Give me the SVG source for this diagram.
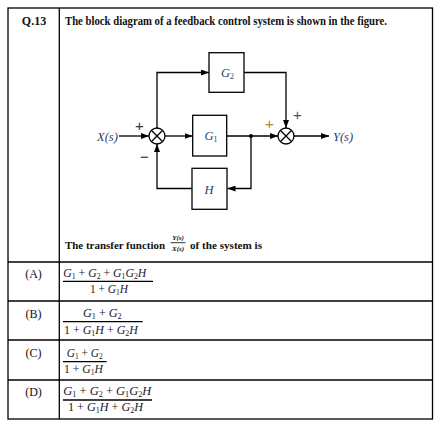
<svg xmlns="http://www.w3.org/2000/svg" width="443" height="428" viewBox="0 0 443 428">
<defs>
<style>
.tb{fill:none;stroke:#000;stroke-width:1.3}
.ln{fill:none;stroke:#000;stroke-width:1.3}
.bx{fill:#fff;stroke:#000;stroke-width:1.3}
.t{font-family:"Liberation Serif",serif;font-size:12px;fill:#111}
.b{font-weight:bold}
.m{font-family:"Liberation Serif",serif;font-style:italic;font-size:12px;fill:#1a1a2a}
.u{font-style:normal}
.s{font-size:8px;font-style:normal}
.dl{font-family:"Liberation Serif",serif;font-style:italic;font-size:12.5px;fill:#2d3f6e}
.pl{font-family:"Liberation Sans",sans-serif;font-size:15px}
.fr{font-family:"Liberation Serif",serif;font-weight:bold;font-style:italic;font-size:7px;fill:#111}
</style>
<marker id="ar" markerWidth="8" markerHeight="6" refX="8" refY="3" orient="auto" markerUnits="userSpaceOnUse">
<path d="M0,0 L8,3 L0,6 Z" fill="#000"/>
</marker>
</defs>
<rect width="443" height="428" fill="#fff"/>

<g id="table">
<rect class="tb" x="8" y="8" width="424.5" height="411"/>
<line class="tb" x1="59.3" y1="8" x2="59.3" y2="419"/>
<line class="tb" x1="8" y1="262" x2="432.5" y2="262"/>
<line class="tb" x1="8" y1="301" x2="432.5" y2="301"/>
<line class="tb" x1="8" y1="340" x2="432.5" y2="340"/>
<line class="tb" x1="8" y1="380" x2="432.5" y2="380"/>
</g>

<g id="question">
<text class="t b" x="34" y="25" text-anchor="middle">Q.13</text>
<text class="t b" x="65" y="25" textLength="322" lengthAdjust="spacingAndGlyphs">The block diagram of a feedback control system is shown in the figure.</text>
<text class="t b" x="65" y="249.3" style="font-size:11px" textLength="100" lengthAdjust="spacingAndGlyphs">The transfer function</text>
<text class="fr" x="178" y="240.3" text-anchor="middle">Y(s)</text>
<line x1="170.5" y1="242.7" x2="185.5" y2="242.7" stroke="#000" stroke-width="0.8"/>
<text class="fr" x="178" y="251.3" text-anchor="middle">X(s)</text>
<text class="t b" x="190" y="249.3" style="font-size:11px" textLength="72" lengthAdjust="spacingAndGlyphs">of the system is</text>
</g>

<g id="connectors">
<path class="ln" d="M119,136 H149" marker-end="url(#ar)"/>
<path class="ln" d="M165,136 H192.5" marker-end="url(#ar)"/>
<path class="ln" d="M227,136 H278" marker-end="url(#ar)"/>
<path class="ln" d="M294,136 H329" marker-end="url(#ar)"/>
<path class="ln" d="M251,136 V188.5 H227.5" marker-end="url(#ar)"/>
<path class="ln" d="M192,188.5 H157 V144" marker-end="url(#ar)"/>
<path class="ln" d="M157,128 V72.5 H209" marker-end="url(#ar)"/>
<path class="ln" d="M244,72.5 H286 V128" marker-end="url(#ar)"/>
<circle cx="251" cy="136" r="2" fill="#000"/>
</g>

<g id="input"><text class="dl" x="97" y="140.5">X(s)</text></g>
<g id="output"><text class="dl" x="333" y="140.5">Y(s)</text></g>

<g id="sum1">
<circle class="bx" cx="157" cy="136" r="8"/>
<path class="ln" d="M151.3,130.3 L162.7,141.7 M162.7,130.3 L151.3,141.7"/>
<text class="pl" x="139.5" y="130.5" text-anchor="middle" fill="#333">+</text>
<text class="pl" x="144.5" y="161.5" text-anchor="middle" fill="#222">−</text>
</g>

<g id="sum2">
<circle class="bx" cx="286" cy="136" r="8"/>
<path class="ln" d="M280.3,130.3 L291.7,141.7 M291.7,130.3 L280.3,141.7"/>
<text class="pl" x="269.5" y="128.5" text-anchor="middle" fill="#c8783a">+</text>
<text class="pl" x="297.5" y="119.5" text-anchor="middle" fill="#2f5597">+</text>
</g>

<g id="g2">
<rect class="bx" x="209" y="52.7" width="35" height="39.6"/>
<text class="dl" x="221" y="76.5">G<tspan class="s" dy="2">2</tspan></text>
</g>
<g id="g1">
<rect class="bx" x="192.7" y="115.3" width="34" height="40.7"/>
<text class="dl" x="204.5" y="140">G<tspan class="s" dy="2">1</tspan></text>
</g>
<g id="h">
<rect class="bx" x="192" y="168.3" width="35" height="41"/>
<text class="dl" x="204.5" y="193.5">H</text>
</g>

<g id="optA">
<text class="t" x="33.5" y="278" text-anchor="middle">(A)</text>
<text class="m" x="63.3" y="277.3" textLength="83" lengthAdjust="spacingAndGlyphs">G<tspan class="s" dy="2">1</tspan><tspan class="u" dy="-2"> + </tspan>G<tspan class="s" dy="2">2</tspan><tspan class="u" dy="-2"> + </tspan>G<tspan class="s" dy="2">1</tspan><tspan dy="-2">G</tspan><tspan class="s" dy="2">2</tspan><tspan dy="-2">H</tspan></text>
<line class="ln" x1="63" y1="281.3" x2="153" y2="281.3" stroke-width="1"/>
<text class="m" x="90" y="293" textLength="38" lengthAdjust="spacingAndGlyphs"><tspan class="u">1 + </tspan>G<tspan class="s" dy="2">1</tspan><tspan dy="-2">H</tspan></text>
</g>

<g id="optB">
<text class="t" x="33.5" y="318" text-anchor="middle">(B)</text>
<text class="m" x="83" y="317.3" textLength="38.7" lengthAdjust="spacingAndGlyphs">G<tspan class="s" dy="2">1</tspan><tspan class="u" dy="-2"> + </tspan>G<tspan class="s" dy="2">2</tspan></text>
<line class="ln" x1="63" y1="321.7" x2="142.7" y2="321.7" stroke-width="1"/>
<text class="m" x="64" y="333.5" textLength="74" lengthAdjust="spacingAndGlyphs"><tspan class="u">1 + </tspan>G<tspan class="s" dy="2">1</tspan><tspan dy="-2">H </tspan><tspan class="u"> + </tspan>G<tspan class="s" dy="2">2</tspan><tspan dy="-2">H</tspan></text>
</g>

<g id="optC">
<text class="t" x="33.5" y="357" text-anchor="middle">(C)</text>
<text class="m" x="66.7" y="356.7" textLength="36" lengthAdjust="spacingAndGlyphs">G<tspan class="s" dy="2">1</tspan><tspan class="u" dy="-2"> + </tspan>G<tspan class="s" dy="2">2</tspan></text>
<line class="ln" x1="63" y1="361.7" x2="106.7" y2="361.7" stroke-width="1"/>
<text class="m" x="64" y="372.5" textLength="39" lengthAdjust="spacingAndGlyphs"><tspan class="u">1 + </tspan>G<tspan class="s" dy="2">1</tspan><tspan dy="-2">H</tspan></text>
</g>

<g id="optD">
<text class="t" x="33.5" y="396" text-anchor="middle">(D)</text>
<text class="m" x="63.3" y="395" textLength="88" lengthAdjust="spacingAndGlyphs">G<tspan class="s" dy="2">1</tspan><tspan class="u" dy="-2"> + </tspan>G<tspan class="s" dy="2">2</tspan><tspan class="u" dy="-2"> + </tspan>G<tspan class="s" dy="2">1</tspan><tspan dy="-2">G</tspan><tspan class="s" dy="2">2</tspan><tspan dy="-2">H</tspan></text>
<line class="ln" x1="63" y1="400" x2="152" y2="400" stroke-width="1"/>
<text class="m" x="68" y="411.3" textLength="75" lengthAdjust="spacingAndGlyphs"><tspan class="u">1 + </tspan>G<tspan class="s" dy="2">1</tspan><tspan dy="-2">H </tspan><tspan class="u"> + </tspan>G<tspan class="s" dy="2">2</tspan><tspan dy="-2">H</tspan></text>
</g>
</svg>
